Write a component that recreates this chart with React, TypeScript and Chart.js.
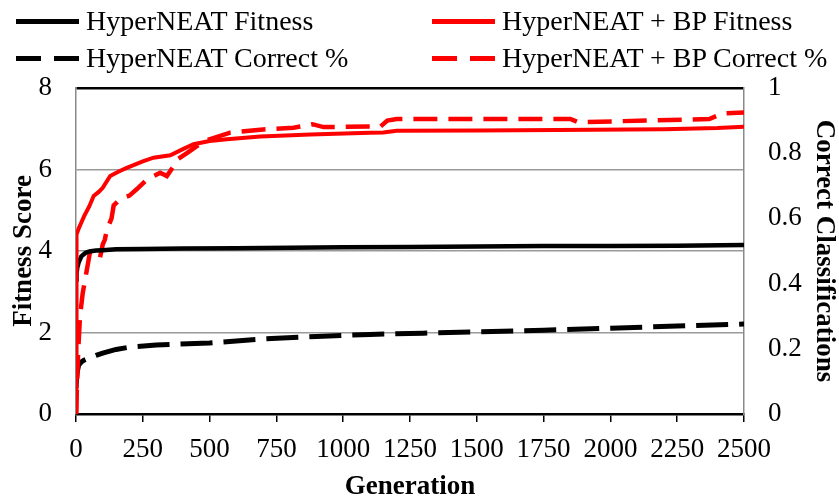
import React, { useEffect, useRef } from "react";
import { Chart, registerables } from "chart.js";

Chart.register(...registerables);

const FONT = "'Liberation Serif', 'Times New Roman', serif";

// Generation axis ticks
const genTicks = [0, 250, 500, 750, 1000, 1250, 1500, 1750, 2000, 2250, 2500];

// HyperNEAT Fitness (left axis)
const hnFitGens = [0, 2, 5, 10, 20, 35, 50, 75, 100, 150, 250, 400, 600, 800, 1000, 1250, 1500, 1750, 2000, 2250, 2500];
const hnFitness = [3.3, 3.45, 3.6, 3.72, 3.87, 3.95, 3.99, 4.01, 4.02, 4.04, 4.05, 4.06, 4.07, 4.08, 4.09, 4.1, 4.11, 4.12, 4.12, 4.13, 4.15];

// HyperNEAT Correct % (right axis)
const hnCorGens = [0, 2, 5, 10, 20, 30, 50, 75, 100, 150, 200, 300, 500, 700, 900, 1100, 1300, 1500, 1750, 2000, 2250, 2500];
const hnCorrect = [0.08, 0.11, 0.13, 0.15, 0.16, 0.165, 0.172, 0.18, 0.187, 0.198, 0.205, 0.212, 0.218, 0.23, 0.238, 0.244, 0.248, 0.252, 0.257, 0.263, 0.27, 0.276];

// HyperNEAT + BP Fitness (left axis)
const bpFitGens = [0, 1, 3, 10, 20, 30, 50, 66, 85, 100, 128, 160, 190, 250, 290, 353, 400, 440, 500, 565, 690, 877, 1100, 1150, 1200, 1500, 1800, 2200, 2400, 2500];
const bpFitness = [0, 4.2, 4.4, 4.55, 4.7, 4.85, 5.1, 5.35, 5.45, 5.55, 5.84, 5.95, 6.04, 6.2, 6.29, 6.35, 6.5, 6.62, 6.7, 6.74, 6.81, 6.86, 6.9, 6.91, 6.95, 6.96, 6.97, 6.99, 7.02, 7.05];

// HyperNEAT + BP Correct % (right axis)
const bpCorGens = [0, 3, 8, 15, 25, 40, 52, 75, 90, 100, 108, 116, 133, 141, 166, 200, 228, 266, 315, 340, 365, 378, 415, 478, 577, 700, 814, 885, 926, 1140, 1165, 1200, 1850, 1880, 2370, 2420, 2500];
const bpCorrect = [0, 0.07, 0.19, 0.3, 0.37, 0.44, 0.495, 0.495, 0.48, 0.52, 0.535, 0.566, 0.6, 0.64, 0.66, 0.67, 0.69, 0.72, 0.74, 0.73, 0.76, 0.78, 0.8, 0.837, 0.863, 0.873, 0.878, 0.889, 0.88, 0.882, 0.9, 0.905, 0.905, 0.895, 0.905, 0.922, 0.925];

const legendItems = [
  { label: "HyperNEAT Fitness", color: "#000", dashed: false, left: 16, top: 21 },
  { label: "HyperNEAT + BP Fitness", color: "#ff0000", dashed: false, left: 432, top: 21 },
  { label: "HyperNEAT Correct %", color: "#000", dashed: true, left: 16, top: 58 },
  { label: "HyperNEAT + BP Correct %", color: "#ff0000", dashed: true, left: 432, top: 58 },
];

function toXY(xs: number[], ys: number[]) {
  return xs.map((x, i) => ({ x, y: ys[i] }));
}

export default function App() {
  const ref = useRef<HTMLCanvasElement>(null);

  useEffect(() => {
    if (!ref.current) return;
    const tickFont = { family: FONT, size: 27 };
    const titleFont = { family: FONT, size: 27, weight: "bold" as const, lineHeight: 1.1 };
    const chart = new Chart(ref.current, {
      type: "line",
      data: {
        datasets: [
          {
            label: "HyperNEAT Fitness",
            data: toXY(hnFitGens, hnFitness),
            borderColor: "#000",
            borderWidth: 4.5,
            yAxisID: "y",
            pointRadius: 0,
            tension: 0,
            order: 2,
          },
          {
            label: "HyperNEAT + BP Fitness",
            data: toXY(bpFitGens, bpFitness),
            borderColor: "#ff0000",
            borderWidth: 4,
            yAxisID: "y",
            pointRadius: 0,
            tension: 0,
            order: 1,
          },
          {
            label: "HyperNEAT Correct %",
            data: toXY(hnCorGens, hnCorrect),
            borderColor: "#000",
            borderWidth: 5,
            borderDash: [32, 11],
            yAxisID: "y1",
            pointRadius: 0,
            tension: 0,
            order: 4,
          },
          {
            label: "HyperNEAT + BP Correct %",
            data: toXY(bpCorGens, bpCorrect),
            borderColor: "#ff0000",
            borderWidth: 4.5,
            borderDash: [24, 11],
            yAxisID: "y1",
            pointRadius: 0,
            tension: 0,
            order: 3,
          },
        ],
      },
      options: {
        animation: false,
        responsive: false,
        layout: { padding: { top: 88, left: 0, right: 0, bottom: 0 } },
        plugins: { legend: { display: false }, tooltip: { enabled: false } },
        scales: {
          x: {
            type: "linear",
            min: 0,
            max: 2500,
            afterBuildTicks: (s: any) => {
              s.ticks = genTicks.map((v) => ({ value: v }));
            },
            ticks: {
              font: tickFont,
              color: "#000",
              padding: 12,
              maxRotation: 0,
              autoSkip: false,
              callback: (v: any) => String(v),
            },
            grid: {
              drawOnChartArea: false,
              drawTicks: true,
              tickLength: 8,
              color: "#000",
              lineWidth: 1.5,
            },
            border: { color: "#000", width: 2.5 },
            title: {
              display: true,
              text: "Generation",
              font: { ...titleFont, lineHeight: 1.0 },
              color: "#000",
              padding: { top: 0, bottom: 0 },
            },
            afterFit: (s: any) => {
              s.height = 87;
            },
          },
          y: {
            position: "left",
            min: 0,
            max: 8,
            ticks: {
              stepSize: 2,
              font: tickFont,
              color: "#000",
              padding: 24,
              callback: (v: any) => String(v),
            },
            grid: {
              drawTicks: false,
              color: (c: any) => (c.tick && (c.tick.value === 8 || c.tick.value === 0) ? "#000" : "#9a9a9a"),
              lineWidth: (c: any) => (c.tick && c.tick.value === 8 ? 2.5 : 1.5),
            },
            border: { color: "#8a8a8a", width: 1.5 },
            title: {
              display: true,
              text: "Fitness Score",
              font: titleFont,
              color: "#000",
              padding: { top: 9, bottom: 0 },
            },
            afterFit: (s: any) => {
              s.width = 76;
            },
          },
          y1: {
            position: "right",
            min: 0,
            max: 1,
            ticks: {
              stepSize: 0.2,
              font: tickFont,
              color: "#000",
              padding: 24,
              callback: (v: any) => String(Math.round(Number(v) * 10) / 10),
            },
            grid: { drawOnChartArea: false, drawTicks: false },
            border: { color: "#8a8a8a", width: 1.5 },
            title: {
              display: true,
              text: "Correct Classifications",
              font: titleFont,
              color: "#000",
              padding: { top: 0, bottom: 0 },
            },
            afterFit: (s: any) => {
              s.width = 95;
            },
          },
        },
      },
    });
    return () => chart.destroy();
  }, []);

  return (
    <div style={{ position: "fixed", left: 0, top: 0, width: 839, height: 501, background: "#fff" }}>
      <canvas ref={ref} width={839} height={501} style={{ position: "absolute", left: 0, top: 0, width: 839, height: 501 }} />
      {legendItems.map((it) => (
        <div
          key={it.label}
          style={{
            position: "absolute",
            left: it.left,
            top: it.top - 18,
            height: 36,
            display: "flex",
            alignItems: "center",
            fontFamily: FONT,
            fontSize: 28,
            color: "#000",
            whiteSpace: "nowrap",
          }}
        >
          {it.dashed ? (
            <div style={{ width: 63, height: 5, display: "flex", justifyContent: "space-between", marginRight: 7 }}>
              <div style={{ width: 25, height: 5, background: it.color }} />
              <div style={{ width: 25, height: 5, background: it.color }} />
            </div>
          ) : (
            <div style={{ width: 63, height: 5, background: it.color, marginRight: 7 }} />
          )}
          <span>{it.label}</span>
        </div>
      ))}
    </div>
  );
}
